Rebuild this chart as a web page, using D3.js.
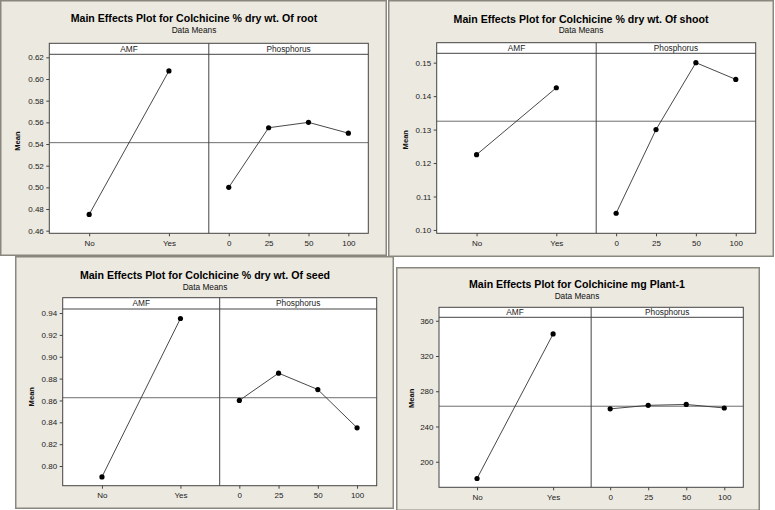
<!DOCTYPE html>
<html><head><meta charset="utf-8">
<script src="https://cdn.jsdelivr.net/npm/d3@7"></script>
<style>body{margin:0;background:#fff} svg{display:block}</style>
</head><body>
<svg id="c" width="775" height="510"></svg>
<script>
// ---------- data ----------
const chartTitles = [
  "Main Effects Plot for Colchicine % dry wt. Of root",
  "Main Effects Plot for Colchicine % dry wt. Of shoot",
  "Main Effects Plot for Colchicine % dry wt. Of seed",
  "Main Effects Plot for Colchicine mg Plant-1"
];
const subtitle = "Data Means";
const yLabel = "Mean";
const factorNames = ["AMF", "Phosphorus"];
const amfLevels = ["No", "Yes"];
const phosLevels = ["0", "25", "50", "100"];

const rootAMF = [0.475, 0.6075];
const rootPhos = [0.500, 0.555, 0.560, 0.550];
const shootAMF = [0.1225, 0.1425];
const shootPhos = [0.105, 0.130, 0.150, 0.145];
const seedAMF = [0.790, 0.935];
const seedPhos = [0.860, 0.885, 0.870, 0.835];
const plantAMF = [181, 345];
const plantPhos = [260, 264, 265, 261];

const rootTicks = [0.46, 0.48, 0.50, 0.52, 0.54, 0.56, 0.58, 0.60, 0.62];
const shootTicks = [0.10, 0.11, 0.12, 0.13, 0.14, 0.15];
const seedTicks = [0.80, 0.82, 0.84, 0.86, 0.88, 0.90, 0.92, 0.94];
const plantTicks = [200, 240, 280, 320, 360];

const rootDomain = [0.4576, 0.6228];
const shootDomain = [0.0990, 0.1528];
const seedDomain = [0.7820, 0.9437];
const plantDomain = [171, 363.9];

const tickFormats = [".2f", ".2f", ".2f", "d"];

const amfSeries = [rootAMF, shootAMF, seedAMF, plantAMF];
const phosSeries = [rootPhos, shootPhos, seedPhos, plantPhos];
const tickSets = [rootTicks, shootTicks, seedTicks, plantTicks];
const domains = [rootDomain, shootDomain, seedDomain, plantDomain];

// ---------- layout ----------
const layout = [
  {panel:[0,0,387,256],   f:{l:49.3,r:368.3,t:43.3,hb:54.3,b:233.3}, cx:194,   titleY:21.8,  subY:32.8,  ylx:20,    yly:141},
  {panel:[388,0,386,257], f:{l:436.7,r:755.7,t:42.7,hb:53.3,b:233.3}, cx:581,  titleY:22.6,  subY:33.3,  ylx:407.7, yly:139.7},
  {panel:[15,256,379,253],f:{l:62.7,r:376.7,t:297.7,hb:309,b:485.7}, cx:205,   titleY:279,   subY:290.3, ylx:34.3,  yly:396.7},
  {panel:[396,267,364,244],f:{l:439,r:743.3,t:307.3,hb:317.3,b:487.3}, cx:577, titleY:288.3, subY:299.3, ylx:414.3, yly:398.3}
];

const svg = d3.select("#c");
const FONT = "'Liberation Sans', Arial, sans-serif";

layout.forEach((L, i) => {
  const g = svg.append("g");
  const [px, py, pw, ph] = L.panel;
  g.append("rect").attr("x", px + 0.75).attr("y", py + 0.75)
    .attr("width", pw - 1.5).attr("height", ph - 1.5)
    .attr("fill", "#ECE9E0").attr("stroke", "#8a877f").attr("stroke-width", 1.5);

  g.append("text").attr("x", L.cx).attr("y", L.titleY).attr("text-anchor", "middle")
    .attr("font-family", FONT).attr("font-weight", "bold").attr("font-size", 10.6)
    .attr("fill", "#000").text(chartTitles[i]);
  g.append("text").attr("x", L.cx).attr("y", L.subY).attr("text-anchor", "middle")
    .attr("font-family", FONT).attr("font-size", 8.3).attr("fill", "#111").text(subtitle);

  const f = L.f;
  const mid = (f.l + f.r) / 2;

  // plot area
  g.append("rect").attr("x", f.l).attr("y", f.t).attr("width", f.r - f.l).attr("height", f.b - f.t)
    .attr("fill", "#fff");

  const y = d3.scaleLinear().domain(domains[i]).range([f.b, f.hb]);
  const xA = d3.scalePoint().domain(amfLevels).range([f.l, mid]).padding(0.5);
  const xP = d3.scalePoint().domain(phosLevels).range([mid, f.r]).padding(0.5);

  // grand mean reference line
  const grand = d3.mean(amfSeries[i]);
  g.append("line").attr("x1", f.l).attr("x2", f.r).attr("y1", y(grand)).attr("y2", y(grand))
    .attr("stroke", "#6e6e6e").attr("stroke-width", 1);

  // y axis
  const ya = g.append("g").attr("transform", `translate(${f.l},0)`)
    .call(d3.axisLeft(y).tickValues(tickSets[i]).tickFormat(d3.format(tickFormats[i])).tickSize(3).tickPadding(2.5));
  ya.select(".domain").remove();
  ya.selectAll("line").attr("stroke", "#444");
  ya.selectAll("text").attr("font-family", FONT).attr("font-size", 8).attr("fill", "#222");

  // x axes
  [xA, xP].forEach(sc => {
    const xa = g.append("g").attr("transform", `translate(0,${f.b})`)
      .call(d3.axisBottom(sc).tickSize(3).tickPadding(4));
    xa.select(".domain").remove();
    xa.selectAll("line").attr("stroke", "#444");
    xa.selectAll("text").attr("font-family", FONT).attr("font-size", 8).attr("fill", "#222");
  });

  // header strip & frame
  g.append("line").attr("x1", f.l).attr("x2", f.r).attr("y1", f.hb).attr("y2", f.hb)
    .attr("stroke", "#444").attr("stroke-width", 1);
  g.append("line").attr("x1", mid).attr("x2", mid).attr("y1", f.t).attr("y2", f.b)
    .attr("stroke", "#444").attr("stroke-width", 1);
  g.append("rect").attr("x", f.l).attr("y", f.t).attr("width", f.r - f.l).attr("height", f.b - f.t)
    .attr("fill", "none").attr("stroke", "#444").attr("stroke-width", 1);
  [[f.l, mid], [mid, f.r]].forEach(([a, b], k) => {
    g.append("text").attr("x", (a + b) / 2).attr("y", (f.t + f.hb) / 2 + 3)
      .attr("text-anchor", "middle").attr("font-family", FONT).attr("font-size", 8.3)
      .attr("fill", "#222").text(factorNames[k]);
  });

  // y label
  g.append("text").attr("transform", `translate(${L.ylx},${L.yly}) rotate(-90)`)
    .attr("text-anchor", "middle").attr("font-family", FONT).attr("font-weight", "bold")
    .attr("font-size", 7.6).attr("fill", "#111").text(yLabel);

  // data lines and points
  const line = (sc, levels) => d3.line().x((d, j) => sc(levels[j])).y(d => y(d));
  g.append("path").datum(amfSeries[i]).attr("d", line(xA, amfLevels))
    .attr("fill", "none").attr("stroke", "#333").attr("stroke-width", 0.9);
  g.append("path").datum(phosSeries[i]).attr("d", line(xP, phosLevels))
    .attr("fill", "none").attr("stroke", "#333").attr("stroke-width", 0.9);
  g.selectAll(".pa").data(amfSeries[i]).join("circle")
    .attr("cx", (d, j) => xA(amfLevels[j])).attr("cy", d => y(d)).attr("r", 2.6).attr("fill", "#000");
  g.selectAll(".pp").data(phosSeries[i]).join("circle")
    .attr("cx", (d, j) => xP(phosLevels[j])).attr("cy", d => y(d)).attr("r", 2.6).attr("fill", "#000");
});
</script>
</body></html>
